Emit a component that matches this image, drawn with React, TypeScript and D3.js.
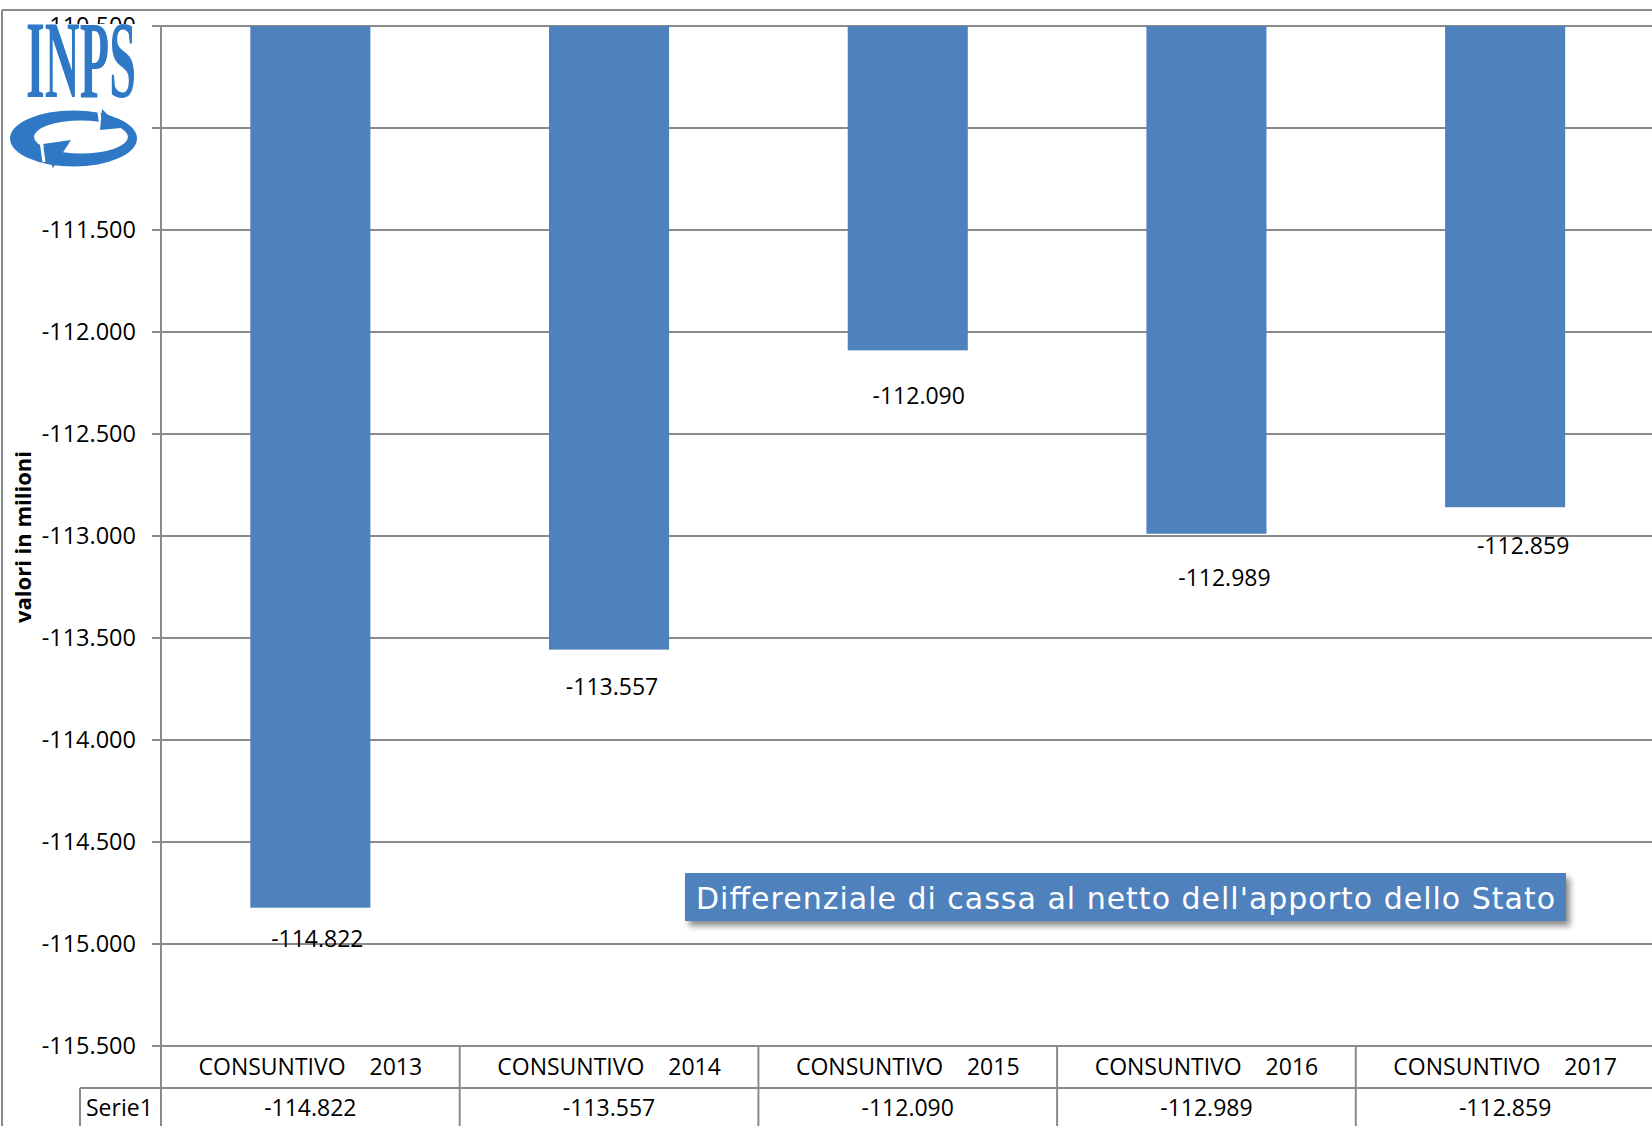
import React from "react";
import * as d3 from "d3";

const categories = [
  "CONSUNTIVO    2013",
  "CONSUNTIVO    2014",
  "CONSUNTIVO    2015",
  "CONSUNTIVO    2016",
  "CONSUNTIVO    2017",
];
const values = [-114822, -113557, -112090, -112989, -112859];
const yTicks = [-110500, -111000, -111500, -112000, -112500, -113000, -113500, -114000, -114500, -115000, -115500];
const seriesName = "Serie1";
const legendText = "Differenziale di cassa al netto dell'apporto dello Stato";
const yTitle = "valori in milioni";
// manual data-label nudges (dx, dy from bar end), as placed in the original
const labelNudgeX = [7, 3, 11, 18, 18];
const labelNudgeY = [31, 37, 45, 44, 38];

const W = 1652;
const H = 1126;
const plotLeft = 161;
const plotTop = 26;
const plotBottom = 1046;
const colW = 298.7;
const rowDiv = 1088;
const BLUE = "#4F81BD";
const LOGO = "#2f78c6";
const GRID = "#8a8a8a";
const FONT = "'Open Sans', 'Noto Sans', sans-serif";

const it = d3.formatLocale({ decimal: ",", thousands: ".", grouping: [3], currency: ["€", ""], minus: "-" });
const fmt = it.format(",.0f");

function ellipsePath(cx: number, cy: number, rx: number, ry: number) {
  return `M${cx - rx},${cy}A${rx},${ry} 0 1 0 ${cx + rx},${cy}A${rx},${ry} 0 1 0 ${cx - rx},${cy}Z`;
}

function Logo() {
  const band = ellipsePath(73.5, 138.5, 63.5, 28) + ellipsePath(81, 137, 47, 16.5);
  return (
    <g>
      <rect x={18} y={24} width={128} height={148} fill="#ffffff" />
      <text
        x={26}
        y={97}
        fontFamily="'Liberation Serif', 'DejaVu Serif', serif"
        fontWeight="bold"
        fontSize={111}
        fill={LOGO}
        textLength={110}
        lengthAdjust="spacingAndGlyphs"
      >
        INPS
      </text>
      <path d={band} fill={LOGO} fillRule="evenodd" />
      {/* cuts */}
      <line x1={98} y1={106} x2={101} y2={126} stroke="#fff" strokeWidth={3} />
      <line x1={41} y1={141} x2={44} y2={162} stroke="#fff" strokeWidth={3} />
      {/* arrow heads */}
      <path d="M102,109L121,128L100,130Z" fill={LOGO} />
      <path d="M43,144L71,140L53,168Z" fill={LOGO} />
    </g>
  );
}

export default function App() {
  const y = d3.scaleLinear().domain([-110500, -115500]).range([plotTop, plotBottom]);
  const x = d3
    .scaleBand<string>()
    .domain(categories)
    .range([plotLeft, plotLeft + colW * categories.length])
    .padding(0);
  const bw = x.bandwidth() * 0.402;

  return (
    <svg
      width={W}
      height={H}
      style={{ position: "absolute", left: 0, top: 0, background: "#fff" }}
      xmlns="http://www.w3.org/2000/svg"
    >
      <rect x={0} y={0} width={W} height={H} fill="#fff" />
      {/* outer frame */}
      <line x1={2} y1={10} x2={W} y2={10} stroke={GRID} strokeWidth={2} />
      <line x1={2} y1={10} x2={2} y2={H} stroke={GRID} strokeWidth={2} />

      {/* gridlines and ticks */}
      {yTicks.map((t) => (
        <g key={t}>
          <line x1={plotLeft - 9} x2={W} y1={y(t)} y2={y(t)} stroke={GRID} strokeWidth={2} />
          <text
            x={136}
            y={y(t)}
            dy="0.36em"
            textAnchor="end"
            fontFamily={FONT}
            fontSize={23.5}
            fill="#000"
          >
            {fmt(t)}
          </text>
        </g>
      ))}

      {/* y axis */}
      <line x1={plotLeft} x2={plotLeft} y1={plotTop} y2={H} stroke={GRID} strokeWidth={2} />

      {/* bars */}
      {categories.map((c, i) => {
        const cxm = (x(c) as number) + x.bandwidth() / 2;
        const y0 = y(-110500);
        const y1 = y(values[i]);
        return (
          <g key={c}>
            <rect x={cxm - bw / 2} y={y0} width={bw} height={y1 - y0} fill={BLUE} />
            <text
              x={cxm + labelNudgeX[i]}
              y={y1 + labelNudgeY[i]}
              dy="0.36em"
              textAnchor="middle"
              fontFamily={FONT}
              fontSize={23}
              fill="#000"
            >
              {fmt(values[i])}
            </text>
          </g>
        );
      })}

      {/* data table */}
      <line x1={80} x2={W} y1={rowDiv} y2={rowDiv} stroke={GRID} strokeWidth={2} />
      <line x1={80} x2={80} y1={rowDiv} y2={H} stroke={GRID} strokeWidth={2} />
      {categories.map((c, i) => {
        const x0 = x(c) as number;
        const cxm = x0 + x.bandwidth() / 2;
        return (
          <g key={"t" + c}>
            {i > 0 && <line x1={x0} x2={x0} y1={plotBottom} y2={H} stroke={GRID} strokeWidth={2} />}
            <text
              x={cxm}
              y={(plotBottom + rowDiv) / 2}
              dy="0.36em"
              textAnchor="middle"
              fontFamily={FONT}
              fontSize={23}
              fill="#000"
              style={{ whiteSpace: "pre" }}
            >
              {c}
            </text>
            <text
              x={cxm}
              y={(rowDiv + H) / 2 + 1}
              dy="0.36em"
              textAnchor="middle"
              fontFamily={FONT}
              fontSize={23}
              fill="#000"
            >
              {fmt(values[i])}
            </text>
          </g>
        );
      })}
      <text x={86} y={(rowDiv + H) / 2 + 1} dy="0.36em" fontFamily={FONT} fontSize={23} fill="#000">
        {seriesName}
      </text>

      {/* y title */}
      <text
        transform={`translate(23,${537}) rotate(-90)`}
        dy="0.36em"
        textAnchor="middle"
        fontFamily={FONT}
        fontWeight="bold"
        fontSize={22}
        fill="#000"
      >
        {yTitle}
      </text>

      {/* legend box */}
      <defs>
        <filter id="sh" x="-5%" y="-30%" width="110%" height="180%">
          <feGaussianBlur stdDeviation="3" />
        </filter>
      </defs>
      <rect x={689} y={878} width={881} height={48} fill="#000" opacity={0.45} filter="url(#sh)" />
      <rect x={685} y={873} width={881} height={48} fill={BLUE} />
      <text
        x={696}
        y={898}
        dy="0.36em"
        fontFamily="'DejaVu Sans', Verdana, sans-serif"
        fontSize={30}
        fill="#fff"
        textLength={859}
        lengthAdjust="spacing"
      >
        {legendText}
      </text>

      <Logo />
    </svg>
  );
}
